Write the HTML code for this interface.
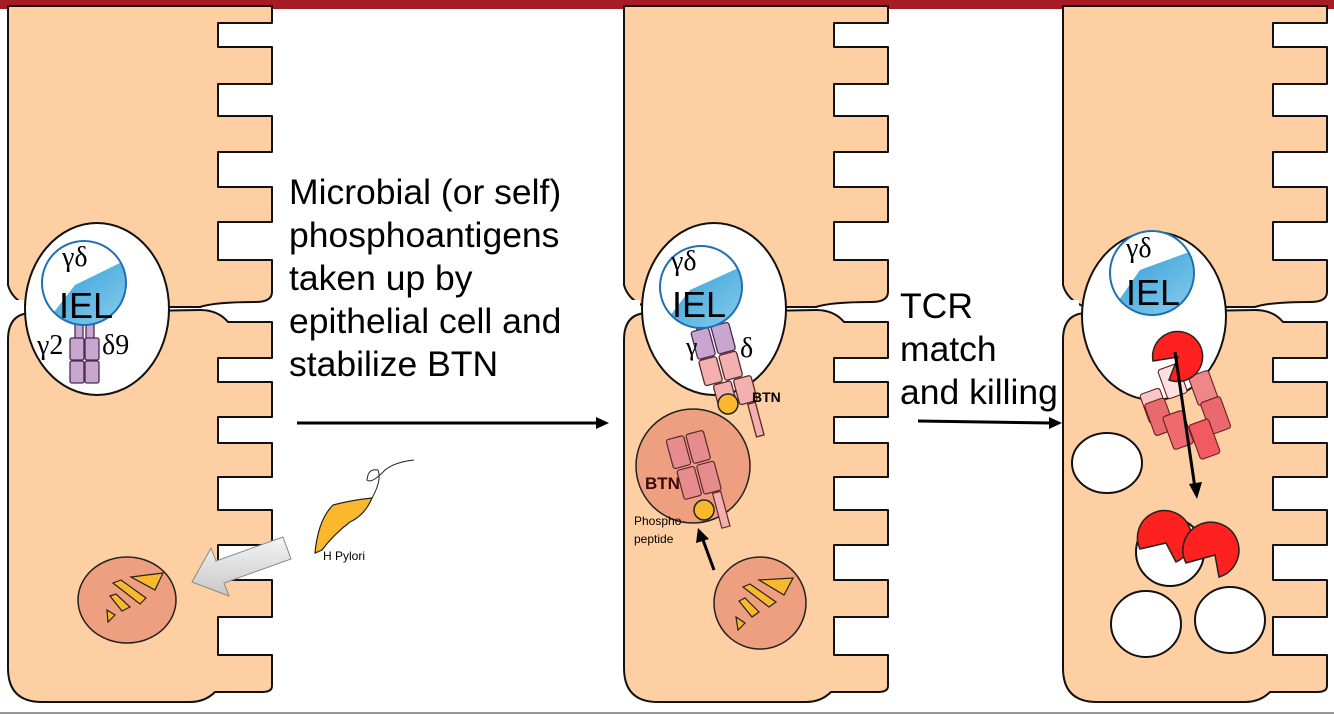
<!DOCTYPE html>
<html><head><meta charset="utf-8"><style>
html,body{margin:0;padding:0;background:#fff;}
svg{display:block;}
.t{font-family:"Liberation Sans",sans-serif;}
.s{font-family:"Liberation Serif",serif;}
</style></head><body>
<svg width="1334" height="715" viewBox="0 0 1334 715" xmlns="http://www.w3.org/2000/svg">
<defs>
<g id="cellTop">
<path d="M8,6 H272 V23 H218 V47 H272 V84 H218 V116 H272 V152 H218 V187 H272 V222 H218 V260 H272 V292 Q272,302 255,302 Q215,302 200,307 L30,307 Q12,300 8,285 Z" fill="#fdcfa2" stroke="#111" stroke-width="2" stroke-linejoin="round"/>
</g>
<g id="cellBot">
<path d="M8,340 Q8,313 32,313 L200,310 Q218,310 228,322 H272 V358 H218 V382 H272 V417 H218 V443 H272 V477 H218 V510 H272 V545 H218 V580 H272 V617 H218 V655 H272 V686 Q272,692 262,692 L215,692 Q205,702 190,702 H42 Q8,702 8,668 Z" fill="#fdcfa2" stroke="#111" stroke-width="2" stroke-linejoin="round"/>
</g>
<clipPath id="cb1"><circle cx="84" cy="283" r="42"/></clipPath>
<clipPath id="cb2"><circle cx="701" cy="287" r="41"/></clipPath>
<clipPath id="cb3"><circle cx="1152" cy="273" r="42"/></clipPath>
<linearGradient id="blu" x1="0" y1="0" x2="1" y2="1"><stop offset="0" stop-color="#2a9ad6"/><stop offset="1" stop-color="#8fd0ee"/></linearGradient>
<linearGradient id="gry" x1="0" y1="0" x2="0" y2="1"><stop offset="0" stop-color="#f4f4f4"/><stop offset="1" stop-color="#c8c8c8"/></linearGradient>
</defs>

<rect x="0" y="0" width="1334" height="9" fill="#a51c24"/>
<line x1="0" y1="713" x2="1334" y2="713" stroke="#999" stroke-width="2"/>

<use href="#cellTop"/><use href="#cellBot"/>
<g transform="translate(616,0)"><use href="#cellTop"/><use href="#cellBot"/></g>
<g transform="translate(1055,0)"><use href="#cellTop"/><use href="#cellBot"/></g>

<ellipse cx="97" cy="309" rx="72" ry="86" fill="#fff" stroke="#111" stroke-width="2"/>
<ellipse cx="714" cy="309" rx="72" ry="86" fill="#fff" stroke="#111" stroke-width="2"/>
<ellipse cx="1154" cy="316" rx="72" ry="84" fill="#fff" stroke="#111" stroke-width="2"/>
<rect x="0" y="300" width="24" height="12" fill="#fff"/>
<rect x="616" y="300" width="24" height="12" fill="#fff"/>
<rect x="1055" y="300" width="24" height="12" fill="#fff"/>

<g fill="#c9a6cf" stroke="#4a2c50" stroke-width="1.3">
<rect x="75" y="318" width="8" height="22"/><rect x="86" y="318" width="8" height="22"/>
<rect x="70" y="338" width="14" height="22" rx="2"/><rect x="85" y="338" width="14" height="22" rx="2"/>
<rect x="70" y="361" width="14" height="22" rx="2"/><rect x="85" y="361" width="14" height="22" rx="2"/>
</g>
<text x="37" y="354" class="s" font-size="28">γ2</text>
<text x="102" y="354" class="s" font-size="28">δ9</text>

<circle cx="84" cy="283" r="42" fill="#fff"/>
<polygon clip-path="url(#cb1)" points="40,330 75,285 130,258 130,330" fill="url(#blu)"/>
<circle cx="84" cy="283" r="42" fill="none" stroke="#1f6fb8" stroke-width="2"/>
<text x="62" y="266" class="s" font-size="28">γδ</text>
<text x="59" y="318" class="t" font-size="36">IEL</text>

<g transform="translate(724,372) scale(1.3) translate(-718,-375)">
<g transform="rotate(-15 720 370)">
<g fill="#c9a6cf" stroke="#4a2c50" stroke-width="1">
<rect x="705" y="320" width="8" height="20"/><rect x="716" y="320" width="8" height="20"/>
<rect x="700" y="338" width="14" height="22" rx="2"/><rect x="716" y="338" width="14" height="22" rx="2"/>
</g>
<g fill="#f3b0ae" stroke="#5a2a2a" stroke-width="1">
<rect x="700" y="361" width="14" height="20" rx="2"/><rect x="716" y="361" width="14" height="20" rx="2"/>
<rect x="706" y="382" width="14" height="20" rx="2"/><rect x="722" y="382" width="14" height="20" rx="2"/>
<rect x="728" y="403" width="6" height="26"/>
</g>
</g>
</g>
<circle cx="701" cy="287" r="41" fill="#fff"/>
<polygon clip-path="url(#cb2)" points="655,335 690,290 745,265 745,335" fill="url(#blu)"/>
<circle cx="701" cy="287" r="41" fill="none" stroke="#1f6fb8" stroke-width="2"/>
<text x="671" y="270" class="s" font-size="28">γδ</text>
<text x="672" y="317" class="t" font-size="36">IEL</text>
<text x="686" y="355" class="s" font-size="26">γ</text>
<text x="740" y="357" class="s" font-size="28">δ</text>
<circle cx="728" cy="404" r="10" fill="#fbb82c" stroke="#222" stroke-width="1.5"/>
<text x="752" y="402" class="t" font-size="14" font-weight="bold">BTN</text>

<circle cx="693" cy="466" r="57" fill="#ee9f80" stroke="#222" stroke-width="1.5"/>
<g transform="translate(700,478) scale(1.2) translate(-700,-478)">
<g transform="rotate(-15 700 475)" fill="#e68c8e" stroke="#5a2a2a" stroke-width="1">
<rect x="680" y="440" width="15" height="25" rx="2"/><rect x="697" y="440" width="15" height="25" rx="2"/>
<rect x="682" y="467" width="15" height="25" rx="2"/><rect x="699" y="467" width="15" height="25" rx="2"/>
<rect x="706" y="493" width="7" height="30" fill="#f3b0ae"/>
</g>
</g>
<circle cx="704" cy="510" r="10" fill="#fbb82c" stroke="#222" stroke-width="1.5"/>
<text x="645" y="489" class="t" font-size="17" font-weight="bold" fill="#3a0a0a">BTN</text>
<text x="634" y="525" class="t" font-size="12">Phospho</text>
<text x="634" y="543" class="t" font-size="12">peptide</text>
<line x1="714" y1="570" x2="703" y2="540" stroke="#000" stroke-width="3"/>
<polygon points="698,528 696,543 709,539" fill="#000"/>

<ellipse cx="127" cy="600" rx="49" ry="43" fill="#ee9f80" stroke="#222" stroke-width="1.5"/>
<g fill="#fbb82c" stroke="#222" stroke-width="1.2">
<polygon points="131,577 163,573 155,590"/>
<polygon points="113,583 121,580 146,598 140,604"/>
<polygon points="110,596 116,594 130,607 122,611"/>
<polygon points="107,610 115,615 108,622"/>
</g>
<circle cx="760" cy="603" r="46" fill="#ee9f80" stroke="#222" stroke-width="1.5"/>
<g fill="#fbb82c" stroke="#222" stroke-width="1.2">
<polygon points="759,580 793,578 784,595"/>
<polygon points="743,587 750,584 776,602 769,607"/>
<polygon points="739,601 745,598 759,612 752,617"/>
<polygon points="736,617 745,623 738,630"/>
</g>

<path d="M315,553 Q318,520 333,505 Q352,500 372,498 Q365,515 350,522 Q333,535 322,550 Z" fill="#fbb82c" stroke="#222" stroke-width="1.2"/>
<path d="M372,498 Q382,480 378,470 Q368,468 367,480 Q372,484 385,470 Q395,462 414,460" fill="none" stroke="#222" stroke-width="1"/>
<text x="323" y="560" class="t" font-size="12">H Pylori</text>
<polygon points="283,537 216,561 211,548 192,582 229,596 224,583 291,559" fill="url(#gry)" stroke="#888" stroke-width="1"/>

<g class="t" font-size="35.5" fill="#000">
<text x="289" y="204">Microbial (or self)</text>
<text x="289" y="247">phosphoantigens</text>
<text x="289" y="290">taken up by</text>
<text x="289" y="333">epithelial cell and</text>
<text x="289" y="376">stabilize BTN</text>
<text x="900" y="318">TCR</text>
<text x="900" y="361">match</text>
<text x="900" y="404">and killing</text>
</g>
<line x1="297" y1="423" x2="598" y2="423" stroke="#000" stroke-width="3"/>
<polygon points="609,423 596,417 596,429" fill="#000"/>
<line x1="918" y1="421" x2="1050" y2="423" stroke="#000" stroke-width="3"/>
<polygon points="1062,423 1049,417 1049,429" fill="#000"/>

<circle cx="1152" cy="273" r="42" fill="#fff"/>
<polygon clip-path="url(#cb3)" points="1105,320 1140,270 1200,248 1200,320" fill="url(#blu)"/>
<circle cx="1152" cy="273" r="42" fill="none" stroke="#1f6fb8" stroke-width="2"/>
<text x="1126" y="257" class="s" font-size="28">γδ</text>
<text x="1126" y="305" class="t" font-size="36">IEL</text>

<g transform="translate(1180,410) scale(1.4) translate(-1172,-410)" stroke="#6a2020" stroke-width="0.8">
<g transform="rotate(-20 1170 400)">
<rect x="1163" y="378" width="15" height="22" rx="2" fill="#fde0e0"/>
<rect x="1145" y="390" width="15" height="22" rx="2" fill="#f8c6c6"/>
<rect x="1182" y="390" width="15" height="22" rx="2" fill="#ee8888"/>
</g>
<rect x="1150" y="403" width="15" height="24" rx="2" fill="#e86a6e" transform="rotate(-20 1157 415)"/>
<rect x="1190" y="402" width="15" height="24" rx="2" fill="#e86a6e" transform="rotate(-20 1197 414)"/>
<rect x="1163" y="412" width="15" height="25" rx="2" fill="#ee6a6e" transform="rotate(-20 1170 424)"/>
<rect x="1182" y="418" width="15" height="26" rx="2" fill="#f05a60" transform="rotate(-20 1189 431)"/>
</g>
<path d="M1178,357 L1169,380 A25,25 0 1 0 1153,361 Z" fill="#ff2020" stroke="#222" stroke-width="1.5"/>
<line x1="1175" y1="352" x2="1195" y2="488" stroke="#000" stroke-width="3"/>
<polygon points="1197,499 1189,484 1202,482" fill="#000"/>

<ellipse cx="1107" cy="463" rx="35" ry="30" fill="#fff" stroke="#111" stroke-width="2"/>
<circle cx="1170" cy="552" r="34" fill="#fff" stroke="#111" stroke-width="2"/>
<ellipse cx="1146" cy="624" rx="35" ry="33" fill="#fff" stroke="#111" stroke-width="2"/>
<ellipse cx="1230" cy="620" rx="35" ry="33" fill="#fff" stroke="#111" stroke-width="2"/>
<path d="M1166,543 L1140,549 A27,27 0 1 1 1176,562 Z" fill="#ff2020" stroke="#222" stroke-width="1.5"/>
<path d="M1215,555 L1186,563 A28,28 0 1 1 1219,577 Z" fill="#ff2020" stroke="#222" stroke-width="1.5"/>
</svg>
</body></html>
